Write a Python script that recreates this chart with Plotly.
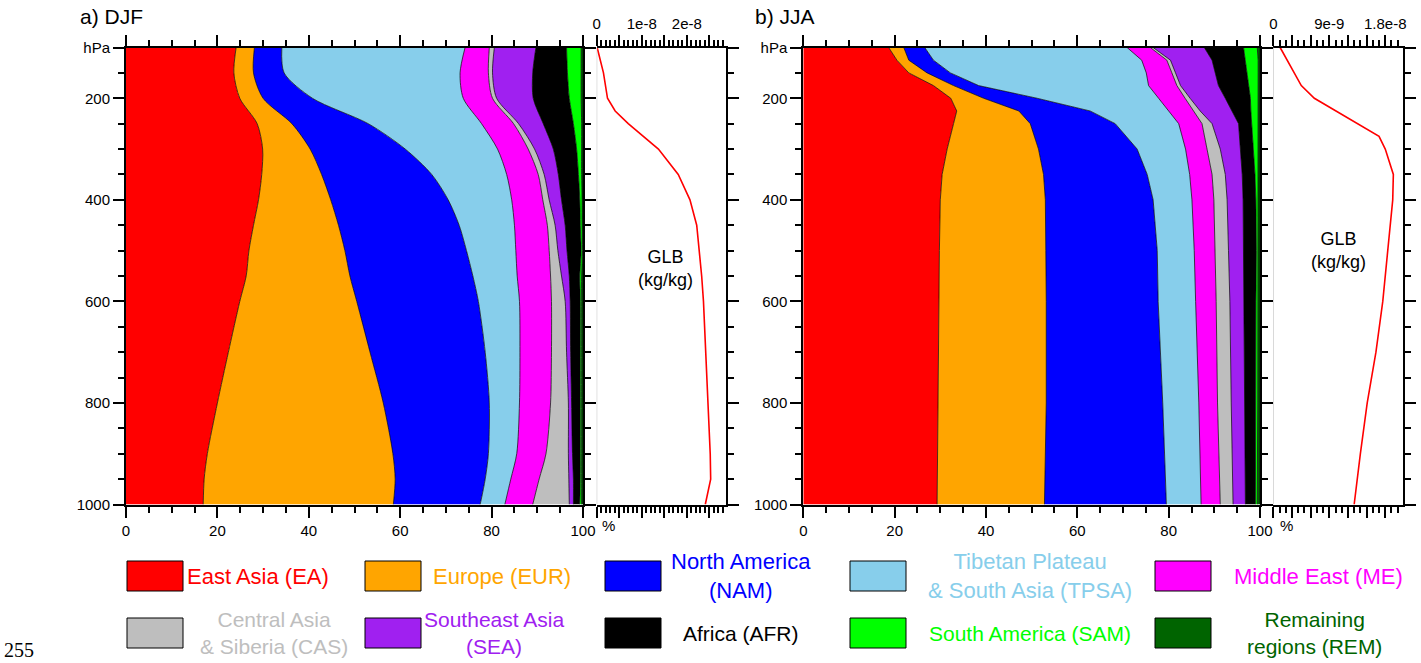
import plotly.graph_objects as go

W, H = 1421, 663

# ---------------- data ----------------
codes = ["EA", "EUR", "NAM", "TPSA", "ME", "CAS", "SEA", "AFR", "SAM", "REM"]
legend_labels = ["East Asia (EA)", "Europe (EUR)", "North America<br>(NAM)",
                 "Tibetan Plateau<br>& South Asia (TPSA)", "Middle East (ME)",
                 "Central Asia<br>& Siberia (CAS)", "Southeast Asia<br>(SEA)", "Africa (AFR)",
                 "South America (SAM)", "Remaining<br>regions (REM)"]
colors = ["#FF0000", "#FFA500", "#0000FF", "#87CEEB", "#FF00FF",
          "#BEBEBE", "#A020F0", "#000000", "#00FF00", "#006400"]

# DJF contributions (%) by pressure level (hPa)
lev_djf = [100, 150, 200, 250, 300, 350, 400, 450, 500, 550, 600, 700, 800, 900, 950, 1000]
djf_EA   = [24.1, 23.6, 24.9, 28.7, 29.9, 29.7, 29.0, 27.9, 26.9, 26.3, 24.9, 22.4, 20.0, 17.8, 17.1, 16.9]
djf_EUR  = [4.0, 4.3, 5.1, 7.6, 10.4, 13.1, 15.8, 18.6, 21.0, 22.7, 25.6, 31.0, 36.3, 40.6, 41.8, 41.6]
djf_NAM  = [6.0, 6.7, 10.8, 16.7, 20.8, 24.1, 25.7, 26.4, 26.6, 26.9, 26.6, 25.2, 23.2, 20.9, 19.7, 19.0]
djf_TPSA = [40.1, 38.5, 33.0, 24.8, 20.2, 16.4, 13.9, 12.1, 10.8, 9.7, 9.0, 7.6, 6.6, 6.2, 5.6, 5.4]
djf_ME   = [5.3, 6.2, 6.4, 7.0, 6.7, 6.9, 6.8, 7.2, 7.3, 7.3, 7.0, 6.9, 6.8, 6.4, 6.2, 6.1]
djf_CAS  = [1.1, 0.9, 0.9, 1.1, 1.4, 1.3, 1.4, 1.7, 1.9, 2.4, 3.0, 3.3, 3.9, 4.9, 6.5, 8.0]
djf_SEA  = [9.1, 8.8, 8.0, 5.4, 4.1, 3.1, 2.7, 2.2, 2.0, 1.7, 1.1, 0.9, 0.7, 0.9, 1.0, 0.9]
djf_AFR  = [6.7, 7.6, 7.9, 6.6, 5.1, 4.4, 4.0, 3.3, 3.1, 2.3, 2.2, 2.1, 1.9, 1.7, 1.5, 1.4]
djf_SAM  = [3.2, 3.0, 2.6, 1.8, 1.1, 0.7, 0.5, 0.4, 0.3, 0.4, 0.3, 0.3, 0.3, 0.3, 0.3, 0.4]
djf_REM  = [0.4, 0.4, 0.4, 0.3, 0.3, 0.3, 0.2, 0.2, 0.2, 0.3, 0.3, 0.3, 0.3, 0.3, 0.3, 0.3]

# JJA contributions (%)
lev_jja = [100, 125, 150, 175, 200, 225, 250, 300, 350, 400, 500, 600, 800, 1000]
jja_EA   = [18.7, 20.5, 23.1, 28.5, 32.3, 33.6, 32.9, 31.5, 30.4, 30.0, 29.8, 29.7, 29.5, 29.3]
jja_EUR  = [3.3, 2.6, 4.0, 4.4, 7.2, 13.6, 16.8, 20.0, 22.2, 23.0, 23.3, 23.5, 23.7, 23.5]
jja_NAM  = [4.6, 5.4, 5.1, 5.5, 11.7, 15.6, 18.6, 21.6, 22.7, 23.6, 24.4, 24.5, 25.5, 26.7]
jja_TPSA = [44.3, 45.6, 42.9, 37.2, 26.6, 17.2, 13.9, 10.6, 9.3, 8.5, 8.1, 8.2, 7.9, 7.6]
jja_ME   = [5.1, 5.5, 5.6, 6.2, 5.8, 5.5, 5.1, 4.7, 4.9, 4.8, 4.6, 4.5, 4.1, 4.2]
jja_CAS  = [0.6, 0.8, 0.8, 0.8, 1.1, 1.4, 2.2, 2.9, 2.9, 2.9, 2.9, 3.0, 3.0, 2.8]
jja_SEA  = [11.2, 9.1, 8.7, 8.3, 7.7, 7.0, 5.8, 4.4, 3.7, 3.5, 3.3, 3.0, 2.9, 2.7]
jja_AFR  = [8.6, 7.3, 7.0, 6.6, 5.5, 4.1, 2.9, 2.9, 2.8, 2.8, 2.8, 2.7, 2.5, 2.2]
jja_SAM  = [3.0, 2.8, 2.4, 2.1, 1.7, 1.6, 1.4, 1.0, 0.7, 0.5, 0.4, 0.5, 0.4, 0.4]
jja_REM  = [0.6, 0.4, 0.4, 0.4, 0.4, 0.4, 0.4, 0.4, 0.4, 0.4, 0.4, 0.4, 0.5, 0.6]

# Global mean mixing ratio (kg/kg)
glb_djf_lev = [100, 150, 200, 225, 250, 275, 300, 350, 400, 450, 500, 550, 600, 700, 800, 900, 950, 1000]
glb_djf = [0.1e-9, 1.5e-9, 2.4e-9, 4.1e-9, 7.0e-9, 1.04e-8, 1.37e-8, 1.81e-8, 2.07e-8, 2.22e-8,
           2.28e-8, 2.33e-8, 2.37e-8, 2.42e-8, 2.48e-8, 2.52e-8, 2.53e-8, 2.41e-8]
glb_jja_lev = [100, 175, 200, 275, 300, 350, 400, 450, 500, 600, 700, 800, 900, 1000]
glb_jja = [1.1e-9, 4.5e-9, 6.6e-9, 1.70e-8, 1.80e-8, 1.93e-8, 1.92e-8, 1.88e-8, 1.84e-8,
           1.76e-8, 1.65e-8, 1.51e-8, 1.40e-8, 1.30e-8]

# tick labels
p_tickvals = [100, 200, 400, 600, 800, 1000]
p_ticktext = ["hPa", "200", "400", "600", "800", "1000"]
pct_ticks = [0, 20, 40, 60, 80, 100]
glb_djf_ticks = [0, 5e-9, 1e-8, 1.5e-8, 2e-8, 2.5e-8]
glb_djf_text = ["0", "", "1e-8", "", "2e-8", ""]
glb_jja_ticks = [0, 3e-9, 6e-9, 9e-9, 1.2e-8, 1.5e-8, 1.8e-8]
glb_jja_text = ["0", "", "", "9e-9", "", "", "1.8e-8"]

djf_vals = [djf_EA, djf_EUR, djf_NAM, djf_TPSA, djf_ME, djf_CAS, djf_SEA, djf_AFR, djf_SAM, djf_REM]
jja_vals = [jja_EA, jja_EUR, jja_NAM, jja_TPSA, jja_ME, jja_CAS, jja_SEA, jja_AFR, jja_SAM, jja_REM]

# ---------------- figure ----------------
FONT = "Liberation Sans, Arial, Helvetica, sans-serif"
fig = go.Figure()

def add_stack(vals, lev, xa, ya, group, shape):
    for code, col, v in zip(codes, colors, vals):
        fig.add_trace(go.Scatter(
            x=v, y=lev, xaxis=xa, yaxis=ya, stackgroup=group, orientation="h",
            mode="lines", line=dict(color="black", width=0.7, shape=shape, smoothing=0.8),
            fillcolor=col, name=code, showlegend=False, hoverinfo="x+y+name"))

add_stack(djf_vals, lev_djf, "x", "y", "djf", "spline")
add_stack(jja_vals, lev_jja, "x3", "y3", "jja", "linear")

fig.add_trace(go.Scatter(x=glb_djf, y=glb_djf_lev, xaxis="x2", yaxis="y2", mode="lines",
                         line=dict(color="#FF0000", width=1.6), showlegend=False))
fig.add_trace(go.Scatter(x=glb_jja, y=glb_jja_lev, xaxis="x4", yaxis="y4", mode="lines",
                         line=dict(color="#FF0000", width=1.6), showlegend=False))

def px(x):
    return x / W

def py(y):
    return 1 - y / H

ydom = [py(504.5), py(47.5)]
dom_a = [px(126), px(583)]
dom_a2 = [px(596.7), px(726)]
dom_b = [px(803.3), px(1260)]
dom_b2 = [px(1273.3), px(1403.3)]

tickfont = dict(family=FONT, size=15, color="black")

def main_x(domain, anchor):
    return dict(domain=domain, anchor=anchor, range=[0, 100], tickvals=pct_ticks,
                ticks="outside", ticklen=11, tickwidth=1.5, tickcolor="black",
                showline=True, linewidth=2, linecolor="black", mirror="allticks",
                showgrid=False, zeroline=False, tickfont=tickfont, automargin=False,
                minor=dict(dtick=5, tick0=0, ticks="outside", ticklen=6, tickwidth=1.5,
                           tickcolor="black", showgrid=False))

def main_y(anchor):
    return dict(domain=ydom, anchor=anchor, range=[1000, 100], tickvals=p_tickvals,
                ticktext=p_ticktext, ticks="outside", ticklen=11, tickwidth=1.5,
                tickcolor="black", showline=True, linewidth=2, linecolor="black",
                mirror="allticks", showgrid=False, zeroline=False, tickfont=tickfont,
                automargin=False,
                minor=dict(dtick=50, tick0=0, ticks="outside", ticklen=6, tickwidth=1.5,
                           tickcolor="black", showgrid=False))

def glb_x(domain, anchor, rng, tv, tt, mdt):
    return dict(domain=domain, anchor=anchor, side="top", range=rng, tickvals=tv,
                ticktext=tt, ticks="outside", ticklen=11, tickwidth=1.5, tickcolor="black",
                showline=True, linewidth=2, linecolor="black", mirror="allticks",
                showgrid=False, zeroline=False, tickfont=tickfont, automargin=False,
                minor=dict(dtick=mdt, tick0=0, ticks="outside", ticklen=6, tickwidth=1.5,
                           tickcolor="black", showgrid=False))

def glb_y(anchor):
    return dict(domain=ydom, anchor=anchor, side="right", range=[1000, 100],
                tickvals=p_tickvals, showticklabels=False, ticks="outside", ticklen=11,
                tickwidth=1.5, tickcolor="black", showline=True, linewidth=2,
                linecolor="black", mirror=False, showgrid=False, zeroline=False,
                automargin=False,
                minor=dict(dtick=50, tick0=0, ticks="outside", ticklen=6, tickwidth=1.5,
                           tickcolor="black", showgrid=False))

fig.update_layout(
    width=W, height=H, margin=dict(l=0, r=0, t=0, b=0, pad=0, autoexpand=False),
    paper_bgcolor="white", plot_bgcolor="white",
    font=dict(family=FONT, color="black"),
    xaxis=main_x(dom_a, "y"), yaxis=main_y("x"),
    xaxis2=glb_x(dom_a2, "y2", [0, 2.87e-8], glb_djf_ticks, glb_djf_text, 1e-9),
    yaxis2=glb_y("x2"),
    xaxis3=main_x(dom_b, "y3"), yaxis3=main_y("x3"),
    xaxis4=glb_x(dom_b2, "y4", [0, 2.09e-8], glb_jja_ticks, glb_jja_text, 1e-9),
    yaxis4=glb_y("x4"),
)

shapes = []
# light grey left edge of the GLB panels
for xr, yr in (("x2", "y2 domain"), ("x4", "y4 domain")):
    shapes.append(dict(type="line", xref=xr, yref=yr, x0=0, x1=0, y0=0, y1=1,
                       line=dict(color="#BBBBBB", width=1)))

annotations = []
def ann(text, x, y, size, color="black", xanchor="center", family=FONT):
    annotations.append(dict(text=text, x=px(x), y=py(y), xref="paper", yref="paper",
                            xanchor=xanchor, yanchor="middle", showarrow=False,
                            font=dict(family=family, size=size, color=color)))

ann("a) DJF", 78, 16, 21, xanchor="left")
ann("b) JJA", 753, 16, 21, xanchor="left")
ann("%", 608, 525, 15)
ann("%", 1286, 525, 15)
ann("GLB<br>(kg/kg)", 665, 268, 18)
ann("GLB<br>(kg/kg)", 1338, 250, 18)
ann("255", 19, 650, 20, family="Liberation Serif, Times New Roman, serif")

# custom legend (two rows x five columns)
box_left = [127, 365, 605, 850, 1155]
text_cx = [258, 502, 741, 1030, 1318, 274, 494, 741, 1030, 1314]
row_top = [561, 618]
for i, (lab, col) in enumerate(zip(legend_labels, colors)):
    r, c = divmod(i, 5)
    y0 = row_top[r]
    shapes.append(dict(type="rect", xref="paper", yref="paper",
                       x0=px(box_left[c]), x1=px(box_left[c] + 56),
                       y0=py(y0 + 30), y1=py(y0), fillcolor=col,
                       line=dict(color="black", width=1)))
    ann(lab, text_cx[i], y0 + 15, 22 if r == 0 else 21, color=col)

fig.update_layout(shapes=shapes, annotations=annotations)
fig.write_html("out.html", config={"displayModeBar": False},
               post_script="document.body.style.margin='0';document.body.style.overflow='hidden';")
